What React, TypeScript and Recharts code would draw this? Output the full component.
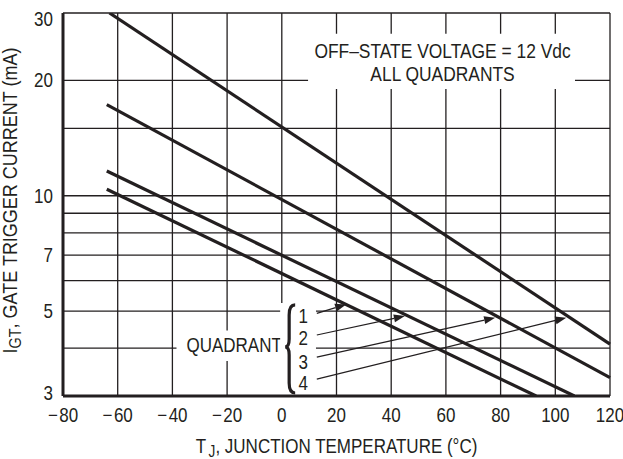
import React from "react";
import {
  LineChart,
  Line,
  XAxis,
  YAxis,
  CartesianGrid,
  ReferenceArea,
  ReferenceLine,
} from "recharts";

// Gate trigger current vs junction temperature, one line per quadrant
const q1Temp = [-64, 93];
const q1Igt = [10.4, 3];
const q2Temp = [-64, 107];
const q2Igt = [11.6, 3];
const q3Temp = [-64, 120];
const q3Igt = [17.3, 3.35];
const q4Temp = [-63, 120];
const q4Igt = [30, 4.1];

const xTicks = [-80, -60, -40, -20, 0, 20, 40, 60, 80, 100, 120];
const yTicks = [3, 4, 5, 6, 7, 8, 9, 10, 15, 20, 30];
const yLabels = [3, 5, 7, 10, 20, 30];

// arrows from quadrant numbers to the lines: [fromTemp, fromIgt, toTemp, toIgt]
const arrows = [
  [12.8, 4.93, 23.5, 5.2],
  [12.8, 4.33, 45, 4.85],
  [12.8, 3.79, 78, 4.8],
  [12.8, 3.32, 104, 4.8],
];

const toRows = (temps: number[], vals: number[]) =>
  temps.map((t, i) => ({ temp: t, igt: vals[i] }));

const quadrantLines = [
  toRows(q1Temp, q1Igt),
  toRows(q2Temp, q2Igt),
  toRows(q3Temp, q3Igt),
  toRows(q4Temp, q4Igt),
];

const INK = "#231f20";
const FONT = "'Liberation Sans', Arial, sans-serif";
const FS = 20;

// the datasheet uses a condensed face, so squeeze a regular one
const NText = ({ x, y, anchor = "middle", rotate = 0, squeeze = 0.85, children }: any) => (
  <text
    x={0}
    y={0}
    transform={`translate(${x},${y}) rotate(${rotate}) scale(${squeeze},1)`}
    textAnchor={anchor}
    fill={INK}
    fontFamily={FONT}
    fontSize={FS}
  >
    {children}
  </text>
);

const fmtX = (v: number) => (v < 0 ? `\u2212\u200A${-v}` : `${v}`);

const XTick = (props: any) => {
  const { x, y, payload } = props;
  return (
    <NText x={x} y={y + 26}>
      {fmtX(payload.value)}
    </NText>
  );
};

const YTick = (props: any) => {
  const { x, y, payload } = props;
  if (!yLabels.includes(payload.value)) return <g />;
  const nudge = payload.value === 30 ? 6 : payload.value === 3 ? -3 : 0;
  return (
    <NText x={x} y={y + 7 + nudge} anchor="end">
      {payload.value}
    </NText>
  );
};

const Arrow = (props: any) => {
  const { x1, y1, x2, y2 } = props;
  const ang = Math.atan2(y2 - y1, x2 - x1);
  const len = 11;
  const half = 4;
  const bx = x2 - len * Math.cos(ang);
  const by = y2 - len * Math.sin(ang);
  const px = -Math.sin(ang) * half;
  const py = Math.cos(ang) * half;
  return (
    <g>
      <line x1={x1} y1={y1} x2={bx} y2={by} stroke={INK} strokeWidth={1.2} />
      <polygon
        points={`${x2},${y2} ${bx + px},${by + py} ${bx - px},${by - py}`}
        fill={INK}
      />
    </g>
  );
};

const YTitle = (props: any) => {
  const vb = props.viewBox;
  return (
    <NText x={vb.x + 17} y={vb.y + vb.height / 2 - 4} rotate={-90} squeeze={0.9}>
      I
      <tspan fontSize={16} dy={4}>
        GT
      </tspan>
      <tspan dy={-4}>, GATE TRIGGER CURRENT (mA)</tspan>
    </NText>
  );
};

const XTitle = (props: any) => {
  const vb = props.viewBox;
  return (
    <NText x={vb.x + vb.width / 2} y={vb.y + 57}>
      T
      <tspan fontSize={16} dy={4} dx={3}>
        J
      </tspan>
      <tspan dy={-4}>, JUNCTION TEMPERATURE (°C)</tspan>
    </NText>
  );
};

const NoteText = (props: any) => {
  const vb = props.viewBox;
  const cx = vb.x + vb.width / 2 + 1;
  return (
    <g>
      <NText x={cx} y={vb.y + 24} squeeze={0.87}>
        OFF–STATE VOLTAGE = 12 Vdc
      </NText>
      <NText x={cx} y={vb.y + 47} squeeze={0.87}>
        ALL QUADRANTS
      </NText>
    </g>
  );
};

const QuadrantText = (props: any) => {
  const vb = props.viewBox;
  return (
    <NText x={vb.x + vb.width} y={vb.y + vb.height / 2 + 6} anchor="end">
      QUADRANT
    </NText>
  );
};

const Brace = (props: any) => {
  const vb = props.viewBox;
  const l = vb.x + 5;
  const r = vb.x + 15;
  const top = vb.y + 2;
  const bot = vb.y + vb.height - 3;
  const mid = (top + bot) / 2 - 2;
  const d = `M${r},${top} Q${l + 4},${top} ${l + 4},${top + 10} L${l + 4},${mid - 8} Q${l + 4},${mid} ${l},${mid} Q${l + 4},${mid} ${l + 4},${mid + 8} L${l + 4},${bot - 10} Q${l + 4},${bot} ${r},${bot}`;
  const dx = vb.x + 23;
  return (
    <g>
      <path d={d} fill="none" stroke={INK} strokeWidth={3.2} />
      <NText x={dx} y={vb.y + 20}>1</NText>
      <NText x={dx} y={vb.y + 42}>2</NText>
      <NText x={dx} y={vb.y + 66}>3</NText>
      <NText x={dx} y={vb.y + 87}>4</NText>
    </g>
  );
};

export default function App() {
  return (
    <div style={{ position: "absolute", left: 0, top: 0, background: "#fff" }}>
      <LineChart
        width={623}
        height={459}
        margin={{ top: 13, right: 13, bottom: 0, left: 0 }}
      >
        <CartesianGrid stroke={INK} strokeWidth={1.3} />
        <XAxis
          type="number"
          dataKey="temp"
          domain={[-80, 120]}
          ticks={xTicks}
          interval={0}
          tickLine={false}
          tickSize={0}
          tickMargin={0}
          height={63}
          axisLine={{ stroke: INK, strokeWidth: 3 }}
          tick={(p: any) => <XTick {...p} />}
          label={(p: any) => <XTitle {...p} />}
        />
        <YAxis
          type="number"
          scale="log"
          domain={[3, 30]}
          allowDataOverflow
          ticks={yTicks}
          interval={0}
          tickLine={false}
          tickSize={0}
          tickMargin={10}
          width={63}
          axisLine={{ stroke: INK, strokeWidth: 3 }}
          tick={(p: any) => <YTick {...p} />}
          label={(p: any) => <YTitle {...p} />}
        />
        <ReferenceArea
          x1={9.6}
          x2={107.2}
          y1={19}
          y2={26.5}
          fill="#fff"
          fillOpacity={1}
          stroke="none"
          label={(p: any) => <NoteText {...p} />}
        />
        <ReferenceArea
          x1={-38.5}
          x2={0}
          y1={3.7}
          y2={4.45}
          fill="#fff"
          fillOpacity={1}
          stroke="none"
          label={(p: any) => <QuadrantText {...p} />}
        />
        <ReferenceArea
          x1={-0.6}
          x2={12.5}
          y1={3}
          y2={5.25}
          fill="#fff"
          fillOpacity={1}
          stroke="none"
          label={(p: any) => <Brace {...p} />}
        />
        {quadrantLines.map((rows, i) => (
          <Line
            key={`q${i + 1}`}
            data={rows}
            dataKey="igt"
            type="linear"
            stroke={INK}
            strokeWidth={3.2}
            dot={false}
            isAnimationActive={false}
          />
        ))}
        {arrows.map((a, i) => (
          <ReferenceLine
            key={`arrow${i}`}
            segment={[
              { x: a[0], y: a[1] },
              { x: a[2], y: a[3] },
            ]}
            stroke={INK}
            shape={(p: any) => <Arrow {...p} />}
          />
        ))}
      </LineChart>
    </div>
  );
}
